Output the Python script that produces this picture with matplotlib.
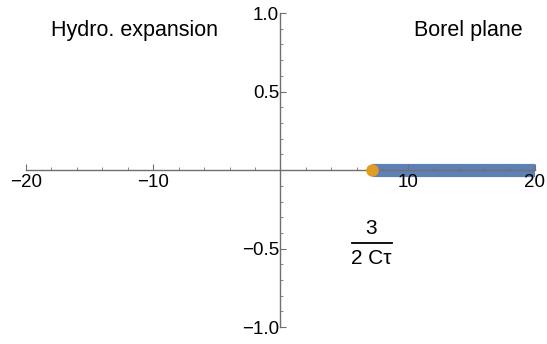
import numpy as np
import matplotlib.pyplot as plt

plt.rcParams['font.family'] = ['Liberation Sans', 'DejaVu Sans']

# branch cut on positive real axis and its starting point
cut_x = [7.2, 20.0]
cut_y = [0.0, 0.0]
pole_x = [7.2]
pole_y = [0.0]

x_major = [-20, -10, 10, 20]
x_labels = ["\u221220", "\u221210", "10", "20"]
y_major = [-1.0, -0.5, 0.5, 1.0]
y_labels = ["\u22121.0", "\u22120.5", "0.5", "1.0"]

fig = plt.figure(figsize=(5.47, 3.44), dpi=100)
ax = fig.add_axes([0.0475, 0.049, 0.9305, 0.913])

ax.plot(cut_x, cut_y, color="#5E81B5", lw=9.5, solid_capstyle="butt", zorder=1)
ax.plot(pole_x, pole_y, "o", color="#E19C24", ms=8, zorder=4, clip_on=False)

ax.set_xlim(-20, 20)
ax.set_ylim(-1, 1)
ax.set_axisbelow(False)

for s in ["top", "right"]:
    ax.spines[s].set_visible(False)
ax.spines["left"].set_position(("data", 0))
ax.spines["bottom"].set_position(("data", 0))
for s in ["left", "bottom"]:
    ax.spines[s].set_color("#707070")
    ax.spines[s].set_linewidth(1.0)
    ax.spines[s].set_zorder(3)

ax.set_xticks(x_major)
ax.set_xticklabels(x_labels)
ax.set_xticks(np.arange(-18, 20, 2), minor=True)
ax.set_yticks(y_major)
ax.set_yticklabels(y_labels)
ax.set_yticks(np.arange(-0.9, 1.0, 0.1), minor=True)
ax.tick_params(axis="both", which="both", colors="#707070", labelcolor="black",
               labelsize=13.5, direction="in")
ax.tick_params(axis="both", which="major", length=4)
ax.tick_params(axis="both", which="minor", length=2)
ax.tick_params(axis="y", pad=1)
ax.tick_params(axis="x", pad=3)

ax.text(-11.5, 0.89, "Hydro. expansion", fontsize=15.5, ha="center", va="center")
ax.text(14.8, 0.89, "Borel plane", fontsize=15.5, ha="center", va="center")

# fraction label 3 / (2 C tau)
ax.text(7.15, -0.37, "3", fontsize=15, ha="center", va="center")
ax.plot([5.6, 8.8], [-0.465, -0.465], color="black", lw=1.3, clip_on=False)
ax.text(7.15, -0.565, "2 C\u03c4", fontsize=15, ha="center", va="center")

fig.savefig("out.png", dpi=100)
